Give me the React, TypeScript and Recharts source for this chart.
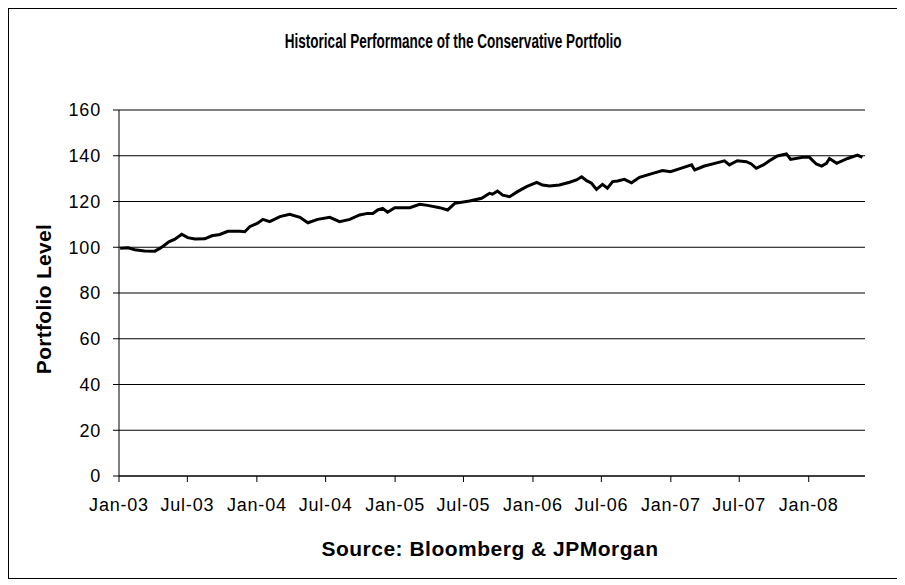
import { LineChart, Line, XAxis, YAxis, CartesianGrid } from 'recharts'

const dates = [
    '2003-01-04', '2003-01-25', '2003-02-12', '2003-03-10', '2003-04-06', '2003-04-19', '2003-05-02', '2003-05-13',
    '2003-05-29', '2003-06-16', '2003-07-02', '2003-07-21', '2003-08-16', '2003-09-04', '2003-09-25', '2003-10-16',
    '2003-11-17', '2003-11-30', '2003-12-13', '2004-01-03', '2004-01-17', '2004-02-04', '2004-03-02', '2004-03-28',
    '2004-04-24', '2004-05-15', '2004-06-10', '2004-07-12', '2004-08-07', '2004-09-03', '2004-09-29', '2004-10-20',
    '2004-11-03', '2004-11-16', '2004-11-29', '2004-12-12', '2004-12-31', '2005-02-09', '2005-03-07', '2005-03-28',
    '2005-04-29', '2005-05-20', '2005-06-08', '2005-07-17', '2005-08-18', '2005-09-08', '2005-09-16', '2005-09-29',
    '2005-10-13', '2005-10-31', '2005-11-21', '2005-12-15', '2006-01-11', '2006-01-26', '2006-02-14', '2006-03-12',
    '2006-04-08', '2006-04-26', '2006-05-10', '2006-05-23', '2006-06-05', '2006-06-18', '2006-07-04', '2006-07-17',
    '2006-07-31', '2006-08-13', '2006-08-31', '2006-09-19', '2006-10-10', '2006-11-14', '2006-12-10', '2006-12-31',
    '2007-01-27', '2007-02-25', '2007-03-05', '2007-03-31', '2007-05-05', '2007-05-23', '2007-06-05', '2007-06-26',
    '2007-07-20', '2007-08-02', '2007-08-15', '2007-09-03', '2007-09-19', '2007-10-10', '2007-11-03', '2007-11-14',
    '2007-12-16', '2008-01-03', '2008-01-21', '2008-02-04', '2008-02-17', '2008-02-25', '2008-03-15', '2008-04-13',
    '2008-05-09', '2008-05-22',
]

const levels = [
    99.6, 99.8, 98.9, 98.4, 98.3, 99.5, 101.0, 102.4,
    103.5, 105.7, 104.2, 103.6, 103.7, 105.0, 105.6, 107.0,
    107.0, 106.8, 109.0, 110.5, 112.2, 111.2, 113.4, 114.4,
    113.1, 110.7, 112.2, 113.1, 111.2, 112.2, 114.1, 114.8,
    114.8, 116.3, 117.0, 115.3, 117.3, 117.3, 118.8, 118.3,
    117.3, 116.3, 119.2, 120.2, 121.4, 123.6, 123.2, 124.6,
    122.8, 122.1, 124.3, 126.5, 128.4, 127.2, 126.8, 127.2,
    128.4, 129.4, 130.8, 129.1, 128.0, 125.3, 127.5, 125.8,
    128.7, 129.0, 129.7, 128.2, 130.6, 132.3, 133.5, 133.0,
    134.5, 136.0, 133.8, 135.5, 137.0, 137.8, 136.0, 137.8,
    137.4, 136.4, 134.5, 136.0, 137.8, 139.9, 140.8, 138.4,
    139.3, 139.3, 136.4, 135.5, 136.7, 138.8, 136.7, 138.8,
    140.3, 139.3,
]

const tickDates = [
    '2003-01-01', '2003-07-01', '2004-01-01', '2004-07-01', '2005-01-01', '2005-07-01',
    '2006-01-01', '2006-07-01', '2007-01-01', '2007-07-01', '2008-01-01',
]
const tickLabels = ['Jan-03', 'Jul-03', 'Jan-04', 'Jul-04', 'Jan-05', 'Jul-05', 'Jan-06', 'Jul-06', 'Jan-07', 'Jul-07', 'Jan-08']
const yTicks = [0, 20, 40, 60, 80, 100, 120, 140, 160]

const startDate = '2003-01-01'
const endDate = '2008-05-29'

const data = dates.map((d, i) => ({ t: Date.parse(d), level: levels[i] }))
const xTicks = tickDates.map((d) => Date.parse(d))

const font = '"Liberation Sans", Arial, sans-serif'

export default function App() {
    const fmt = (v: number) => {
        const i = xTicks.indexOf(v)
        return i >= 0 ? tickLabels[i] : ''
    }

    return (
        <div
            style={{
                position: 'relative',
                width: 889,
                height: 569,
                border: '1px solid #000',
                background: '#fff',
                fontFamily: font,
            }}
        >
            <div
                style={{
                    position: 'absolute',
                    top: 21,
                    left: 0,
                    width: '100%',
                    textAlign: 'center',
                    lineHeight: '22px',
                }}
            >
                <span
                    style={{
                        display: 'inline-block',
                        fontSize: 20.5,
                        fontWeight: 'bold',
                        transform: 'scaleX(0.66)',
                        whiteSpace: 'nowrap',
                    }}
                >
                    Historical Performance of the Conservative Portfolio
                </span>
            </div>
            <LineChart
                width={889}
                height={569}
                data={data}
                margin={{ top: 101, right: 33, bottom: 62, left: 0 }}
            >
                <CartesianGrid horizontal vertical={false} stroke="#000" strokeWidth={1.2} />
                <XAxis
                    dataKey="t"
                    type="number"
                    scale="time"
                    domain={[Date.parse(startDate), Date.parse(endDate)]}
                    ticks={xTicks}
                    tickFormatter={fmt}
                    interval={0}
                    height={40}
                    tickSize={6}
                    tickMargin={16}
                    stroke="#000"
                    tick={{ fill: '#000', fontSize: 18, fontFamily: font, letterSpacing: 0.8 }}
                />
                <YAxis
                    domain={[0, 160]}
                    ticks={yTicks}
                    interval={0}
                    width={110}
                    tickSize={6}
                    tickMargin={12}
                    stroke="#000"
                    tick={{ fill: '#000', fontSize: 18, fontFamily: font, letterSpacing: 0.8 }}
                />
                <Line
                    type="linear"
                    dataKey="level"
                    stroke="#000"
                    strokeWidth={3}
                    dot={false}
                    isAnimationActive={false}
                />
            </LineChart>
            <div
                style={{
                    position: 'absolute',
                    left: 35,
                    top: 290,
                    transform: 'translate(-50%, -50%) rotate(-90deg)',
                    fontSize: 21,
                    fontWeight: 'bold',
                    whiteSpace: 'nowrap',
                    letterSpacing: 0.3,
                }}
            >
                Portfolio Level
            </div>
            <div
                style={{
                    position: 'absolute',
                    left: 481,
                    top: 540,
                    transform: 'translate(-50%, -50%)',
                    fontSize: 21,
                    fontWeight: 'bold',
                    whiteSpace: 'nowrap',
                    letterSpacing: 0.5,
                }}
            >
                Source: Bloomberg &amp; JPMorgan
            </div>
        </div>
    )
}
